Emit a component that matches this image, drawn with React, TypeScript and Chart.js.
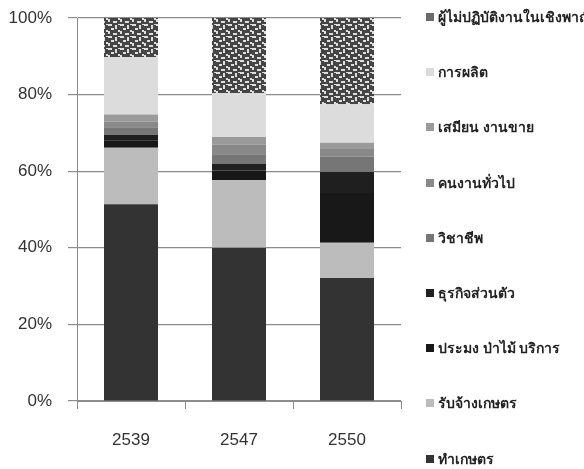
import React, { useEffect, useRef } from "react";
import { Chart, registerables } from "chart.js";

Chart.register(...registerables);

// ---- data ----
const years = ["2539", "2547", "2550"];
const seriesNames = [
  "ทำเกษตร",
  "รับจ้างเกษตร",
  "ประมง ป่าไม้ บริการ",
  "ธุรกิจส่วนตัว",
  "วิชาชีพ",
  "คนงานทั่วไป",
  "เสมียน งานขาย",
  "การผลิต",
  "ผู้ไม่ปฏิบัติงานในเชิงพาณิชย์",
];
const farming = [51.4, 40.0, 32.1];
const farmHire = [14.7, 17.7, 9.2];
const fishery = [2.0, 2.5, 13.0];
const business = [1.4, 1.7, 5.5];
const professional = [2.0, 2.5, 4.0];
const labour = [1.5, 2.5, 2.0];
const clerk = [1.8, 2.0, 1.6];
const production = [15.0, 11.5, 10.1];
const notWorking = [10.2, 19.6, 22.5];
const yTickValues = [0, 20, 40, 60, 80, 100];

// ---- styles ----
const W = 584;
const H = 469;
const colors = ["#333333", "#bcbcbc", "#181818", "#1f1f1f", "#767676", "#898989", "#9a9a9a", "#dcdcdc", "PATTERN"];
const legendSwatch = ["#333333", "#bcbcbc", "#181818", "#1f1f1f", "#767676", "#898989", "#9a9a9a", "#dcdcdc", "#6a6a6a"];
const legendTop = 17;
const legendStep = 55.2;
const axisFont = { family: "'Liberation Sans', Arial, sans-serif", size: 17 };
const gridColor = "#8c8c8c";

function makePattern(): CanvasPattern | string {
  const c = document.createElement("canvas");
  c.width = 12;
  c.height = 12;
  const ctx = c.getContext("2d");
  if (!ctx) return "#666";
  ctx.fillStyle = "#454545";
  ctx.fillRect(0, 0, 12, 12);
  ctx.fillStyle = "#dedede";
  const bits = [
    [0, 0, 4, 2], [7, 1, 2, 4], [3, 4, 3, 2], [10, 6, 2, 2],
    [0, 7, 2, 3], [5, 9, 4, 2], [10, 0, 2, 1], [3, 1, 1, 1],
  ];
  bits.forEach(([x, y, w, h]) => ctx.fillRect(x, y, w, h));
  const p = ctx.createPattern(c, "repeat");
  return p || "#666";
}

export default function App() {
  const ref = useRef<HTMLCanvasElement | null>(null);

  useEffect(() => {
    if (!ref.current) return;
    const pattern = makePattern();
    const values = [farming, farmHire, fishery, business, professional, labour, clerk, production, notWorking];
    const chart = new Chart(ref.current, {
      type: "bar",
      data: {
        labels: years,
        datasets: values.map((v, i) => ({
          label: seriesNames[i],
          data: v,
          backgroundColor: colors[i] === "PATTERN" ? (pattern as any) : colors[i],
          borderWidth: 0,
          barPercentage: 0.5,
          categoryPercentage: 1,
        })),
      },
      options: {
        responsive: false,
        animation: false,
        devicePixelRatio: 1,
        layout: { padding: { top: 18, right: W - 401, left: 0, bottom: 0 } },
        plugins: { legend: { display: false }, tooltip: { enabled: false } },
        scales: {
          x: {
            stacked: true,
            grid: { drawOnChartArea: false, tickLength: 8, color: gridColor, offset: true },
            border: { color: gridColor, width: 1 },
            ticks: { font: axisFont, color: "#333", padding: 21, maxRotation: 0 },
            afterFit: (s: any) => { s.height = H - 401; s.paddingLeft = 0; s.paddingRight = 0; },
          },
          y: {
            stacked: true,
            min: 0,
            max: 100,
            afterBuildTicks: (s: any) => { s.ticks = yTickValues.map((v) => ({ value: v })); },
            grid: { color: gridColor, tickLength: 9, lineWidth: 1.2 },
            border: { color: gridColor, width: 1 },
            ticks: { font: axisFont, color: "#333", padding: 16, callback: (v: any) => v + "%" },
            afterFit: (s: any) => { s.width = 77; s.paddingTop = 0; s.paddingBottom = 0; },
          },
        },
      },
    });
    return () => chart.destroy();
  }, []);

  const order = seriesNames.map((_, i) => i).reverse();

  return (
    <div style={{ position: "absolute", left: 0, top: 0, width: W, height: H, overflow: "hidden", background: "#fff" }}>
      <canvas ref={ref} width={W} height={H} style={{ position: "absolute", left: 0, top: 0, width: W, height: H }} />
      {order.map((si, k) => (
        <div
          key={si}
          style={{
            position: "absolute",
            left: 426,
            top: legendTop + k * legendStep - 10,
            height: 20,
            display: "flex",
            alignItems: "center",
            whiteSpace: "nowrap",
            fontFamily: "'Noto Sans', 'DejaVu Sans', sans-serif",
            fontSize: 14,
            fontWeight: 600,
            color: "#222",
          }}
        >
          <span style={{ display: "inline-block", width: 8, height: 8, background: legendSwatch[si], marginRight: 4 }} />
          <span>{seriesNames[si]}</span>
        </div>
      ))}
    </div>
  );
}
